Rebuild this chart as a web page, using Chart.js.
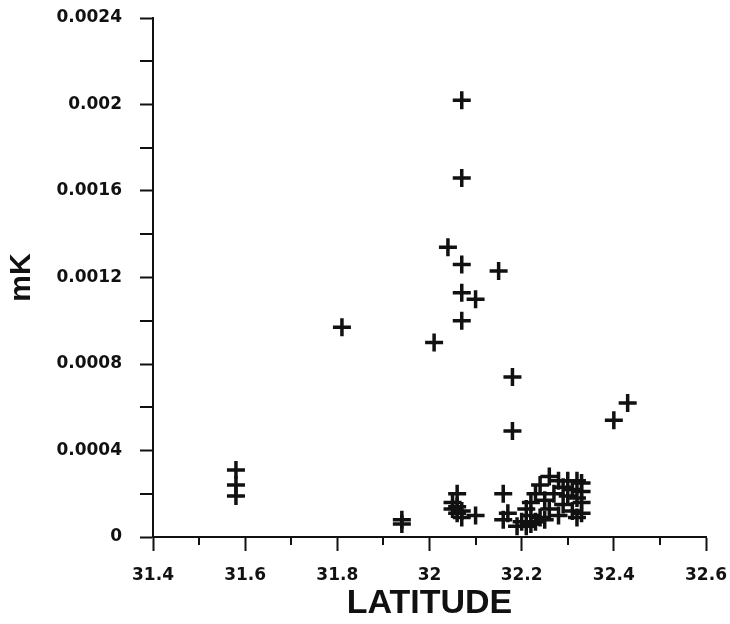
<!DOCTYPE html>
<html>
<head>
<meta charset="utf-8">
<script src="https://cdn.jsdelivr.net/npm/chart.js@4.4.0/dist/chart.umd.min.js"></script>
<style>
  html, body { margin: 0; padding: 0; background: #fff; }
  #wrap { width: 730px; height: 624px; }
</style>
</head>
<body>
<div id="wrap"><canvas id="chart" width="730" height="624"></canvas></div>
<script>
// values
const latitude = [
  32.07, 32.07, 32.04, 32.07, 32.15, 32.07, 32.10, 32.07, 31.81, 32.01,
  32.18, 32.18, 32.43, 32.40,
  31.58, 31.58, 31.58, 31.94, 31.94,
  32.06, 32.05, 32.06, 32.07, 32.05, 32.06, 32.07, 32.10,
  32.16, 32.17, 32.16, 32.19,
  32.26, 32.28, 32.30, 32.32, 32.33, 32.24, 32.29, 32.31, 32.33, 32.23,
  32.27, 32.30, 32.32, 32.22, 32.25, 32.29, 32.33, 32.21, 32.26, 32.31,
  32.33, 32.22, 32.24, 32.28, 32.32, 32.20, 32.22, 32.25, 32.21, 32.23
];
const mK = [
  0.00202, 0.00166, 0.00134, 0.00126, 0.00123, 0.00113, 0.00110, 0.00100, 0.00097, 0.00090,
  0.00074, 0.00049, 0.00062, 0.00054,
  0.00031, 0.00024, 0.00019, 0.00008, 0.00006,
  0.00020, 0.00016, 0.00014, 0.00012, 0.00013, 0.00011, 0.00009, 0.00010,
  0.00020, 0.00011, 0.00008, 0.00005,
  0.00028, 0.00026, 0.00026, 0.00026, 0.00025, 0.00024, 0.00023, 0.00022, 0.00021, 0.00020,
  0.00020, 0.00019, 0.00018, 0.00016, 0.00017, 0.00015, 0.00016, 0.00013, 0.00013, 0.00012,
  0.00011, 0.00010, 0.00009, 0.00010, 0.00009, 0.00007, 0.00006, 0.00008, 0.00005, 0.00007
];
const xTicks = [31.4, 31.6, 31.8, 32, 32.2, 32.4, 32.6];
const xMinor = [31.5, 31.7, 31.9, 32.1, 32.3, 32.5];
const yTicks = [0, 0.0004, 0.0008, 0.0012, 0.0016, 0.002, 0.0024];
const yMinor = [0.0002, 0.0006, 0.001, 0.0014, 0.0018, 0.0022];

const points = latitude.map((x, i) => ({ x: x, y: mK[i] }));
const ink = '#111';
const tickFont = { family: 'DejaVu Sans, sans-serif', size: 17, weight: 'bold' };

// short in-between ticks, placed through the scales
const minorTicks = {
  id: 'minorTicks',
  afterDraw(chart) {
    const c = chart.ctx, xs = chart.scales.x, ys = chart.scales.y;
    c.save();
    c.strokeStyle = ink;
    c.lineWidth = 2;
    c.beginPath();
    xMinor.forEach(v => {
      const px = Math.round(xs.getPixelForValue(v));
      c.moveTo(px, xs.top);
      c.lineTo(px, xs.top + 8);
    });
    yMinor.forEach(v => {
      const py = Math.round(ys.getPixelForValue(v));
      c.moveTo(ys.right, py);
      c.lineTo(ys.right - 13, py);
    });
    c.stroke();
    c.restore();
  }
};

new Chart(document.getElementById('chart'), {
  type: 'scatter',
  data: {
    datasets: [{
      data: points,
      pointStyle: 'cross',
      pointRadius: 9,
      pointHoverRadius: 9,
      borderWidth: 3.5,
      pointBorderWidth: 3.5,
      borderColor: ink,
      backgroundColor: ink
    }]
  },
  options: {
    responsive: false,
    animation: false,
    layout: { padding: { left: 0, top: 18, right: 24, bottom: 0 } },
    plugins: { legend: { display: false }, tooltip: { enabled: false } },
    scales: {
      x: {
        type: 'linear',
        min: 31.4,
        max: 32.6,
        afterBuildTicks: s => { s.ticks = xTicks.map(v => ({ value: v })); },
        afterFit: s => { s.height = 87; s.paddingLeft = 0; s.paddingRight = 0; },
        border: { color: ink, width: 2 },
        grid: { drawOnChartArea: false, tickLength: 14, tickColor: ink, tickWidth: 2 },
        ticks: {
          color: ink,
          padding: 14,
          maxRotation: 0,
          font: tickFont,
          callback: v => String(+Number(v).toFixed(1))
        },
        title: {
          display: true,
          text: 'LATITUDE',
          color: ink,
          padding: { top: 0, bottom: 0 },
          font: { family: 'Liberation Sans, Arial, sans-serif', size: 34, weight: 'bold' }
        }
      },
      y: {
        type: 'linear',
        min: 0,
        max: 0.0024,
        afterBuildTicks: s => { s.ticks = yTicks.map(v => ({ value: v })); },
        afterFit: s => { s.width = 153; s.paddingTop = 0; s.paddingBottom = 0; },
        border: { color: ink, width: 2 },
        grid: { drawOnChartArea: false, tickLength: 13, tickColor: ink, tickWidth: 2 },
        ticks: {
          color: ink,
          padding: 18,
          font: tickFont,
          callback: v => String(+Number(v).toFixed(4))
        },
        title: {
          display: true,
          text: 'mK',
          color: ink,
          padding: { top: 4, bottom: 0 },
          font: { family: 'Liberation Sans, Arial, sans-serif', size: 30, weight: 'bold' }
        }
      }
    }
  },
  plugins: [minorTicks]
});
</script>
</body>
</html>
